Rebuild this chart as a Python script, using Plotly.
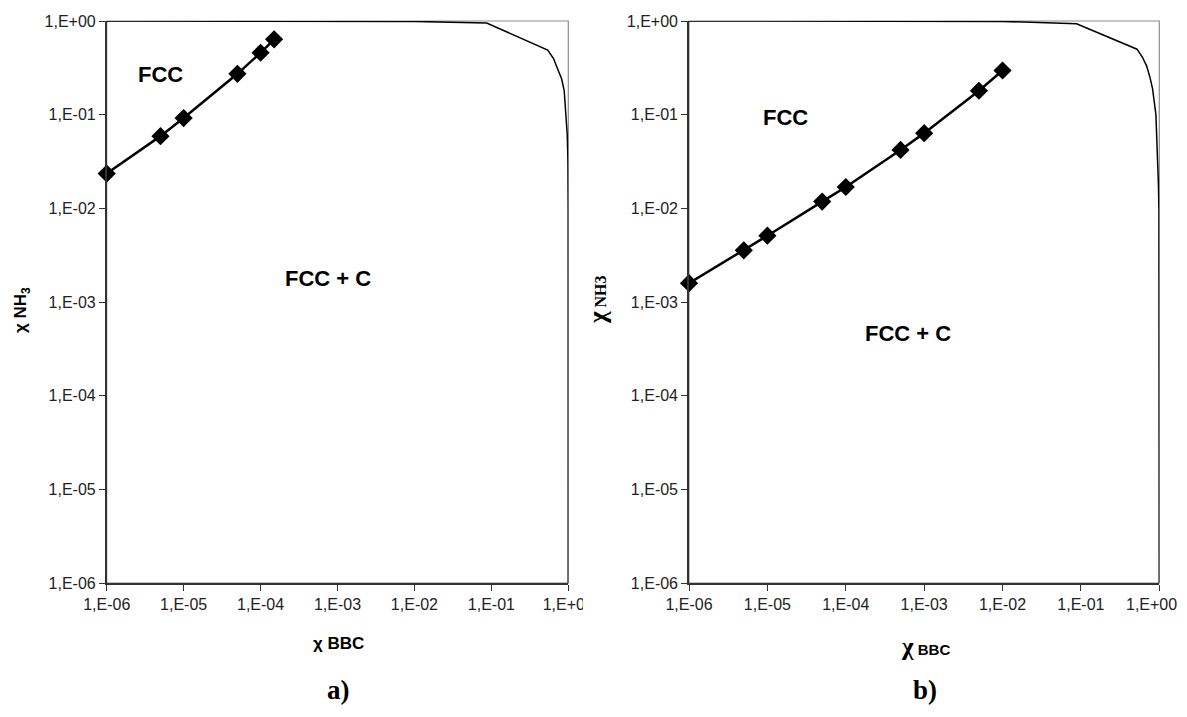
import plotly.graph_objects as go

# tick labels (decades)
TICK_VALS = [1e-6, 1e-5, 1e-4, 1e-3, 1e-2, 1e-1, 1e0]
TICK_TEXT = ['1,E-06', '1,E-05', '1,E-04', '1,E-03', '1,E-02', '1,E-01', '1,E+00']

# panel a) measured points
a_x = [1e-6, 5e-6, 1e-5, 5e-5, 1e-4, 1.5e-4]
a_y = [0.0235, 0.059, 0.092, 0.273, 0.458, 0.637]

# panel b) measured points
b_x = [1e-6, 5e-6, 1e-5, 5e-5, 1e-4, 5e-4, 1e-3, 5e-3, 1e-2]
b_y = [0.00159, 0.00356, 0.0051, 0.0118, 0.0169, 0.042, 0.0635, 0.18, 0.296]

# phase boundary (FCC / FCC + C)
a_bx = [1e-6, 5e-6, 1e-5, 5e-5, 1e-4, 5e-4, 1e-3, 5e-3, 1e-2, 0.087, 0.54, 0.64, 0.71, 0.82, 0.885, 0.94, 0.97, 0.989, 0.998, 1.0]
a_by = [0.999999, 0.999995, 0.99999, 0.99995, 0.9999, 0.9995, 0.999, 0.995, 0.99, 0.95, 0.49, 0.40, 0.32, 0.24, 0.18, 0.10, 0.06, 0.032, 0.01, 1e-6]
b_bx = [1e-6, 5e-6, 1e-5, 5e-5, 1e-4, 5e-4, 1e-3, 5e-3, 1e-2, 0.088, 0.52, 0.61, 0.69, 0.76, 0.82, 0.905, 0.95, 0.975, 0.99, 1.0]
b_by = [0.999999, 0.999995, 0.99999, 0.99995, 0.9999, 0.9995, 0.999, 0.995, 0.99, 0.935, 0.50, 0.41, 0.33, 0.25, 0.19, 0.10, 0.037, 0.018, 0.0093, 1e-6]

# the page body has an 8px margin, so work in screen pixels and shift back
OFF = 8
W, H = 1187 - 2 * OFF, 717 - 2 * OFF
ARIAL = 'Arial, Liberation Sans, sans-serif'
TIMES = 'Times New Roman, Liberation Serif, serif'


def fx(px):
    return (px - OFF) / W


def fy(py):
    return 1 - (py - OFF) / H


fig = go.Figure()

for bx, by, xa, ya in [(a_bx, a_by, 'x', 'y'), (b_bx, b_by, 'x2', 'y2')]:
    fig.add_trace(go.Scatter(x=bx, y=by, xaxis=xa, yaxis=ya, mode='lines',
                             line=dict(color='black', width=1.5),
                             showlegend=False, cliponaxis=False))

for px_, py_, xa, ya in [(a_x, a_y, 'x', 'y'), (b_x, b_y, 'x2', 'y2')]:
    fig.add_trace(go.Scatter(x=px_, y=py_, xaxis=xa, yaxis=ya, mode='lines+markers',
                             line=dict(color='black', width=2.5),
                             marker=dict(symbol='diamond', size=14, color='black'),
                             showlegend=False, cliponaxis=False))


def ax(domain, anchor, ticktext=TICK_TEXT):
    return dict(type='log', range=[-6, 0], domain=domain, anchor=anchor, automargin=False,
                tickvals=TICK_VALS, ticktext=ticktext, ticks='outside', ticklen=6,
                tickcolor='#333', tickwidth=1, showline=True, linecolor='#333', linewidth=1.6,
                showgrid=False, zeroline=False,
                tickfont=dict(family=ARIAL, size=16, color='#222'))


# last label of panel b would fall off the page edge: drawn as an annotation instead
b_ticktext = TICK_TEXT[:-1] + ['']

ydom = [fy(583), fy(21)]
fig.update_layout(
    width=W, height=H, margin=dict(l=0, r=0, t=0, b=0, autoexpand=False),
    paper_bgcolor='white', plot_bgcolor='white',
    xaxis=ax([fx(106.7), fx(568.3)], 'y'),
    yaxis=ax(ydom, 'x'),
    xaxis2=ax([fx(689), fx(1159.3)], 'y2', b_ticktext),
    yaxis2=ax(ydom, 'x2'),
)

# grey frame on top/right
for xr, yr in [('x domain', 'y domain'), ('x2 domain', 'y2 domain')]:
    fig.add_shape(type='rect', xref=xr, yref=yr, x0=0, x1=1, y0=0, y1=1,
                  line=dict(color='#8c8c8c', width=1.2), layer='below')

# clip the last tick label of panel a like the original
fig.add_shape(type='rect', xref='paper', yref='paper', x0=fx(583), x1=fx(620),
              y0=fy(620), y1=fy(592), fillcolor='white', line_width=0, layer='above')

fig.add_annotation(xref='paper', yref='paper', x=fx(1178.5), y=fy(604),
                   xanchor='right', yanchor='middle', showarrow=False,
                   text=TICK_TEXT[-1], font=dict(family=ARIAL, size=16, color='#222'))

notes = [
    dict(x=160.8, y=74, text='<b>FCC</b>', font=dict(family=ARIAL, size=22)),
    dict(x=328, y=278, text='<b>FCC + C</b>', font=dict(family=ARIAL, size=22)),
    dict(x=785, y=117, text='<b>FCC</b>', font=dict(family=ARIAL, size=22)),
    dict(x=908, y=333, text='<b>FCC + C</b>', font=dict(family=ARIAL, size=22)),
    dict(x=338, y=643, text='<b>χ BBC</b>', font=dict(family=ARIAL, size=17)),
    dict(x=925, y=646, text='<b><span style="font-family:' + TIMES + ';font-size:25px">χ</span> BBC</b>',
         font=dict(family=ARIAL, size=15)),
    dict(x=338, y=690, text='<b>a)</b>', font=dict(family=TIMES, size=27)),
    dict(x=925, y=690, text='<b>b)</b>', font=dict(family=TIMES, size=27)),
    dict(x=22, y=310, text='<b>χ NH<sub>3</sub></b>', font=dict(family=ARIAL, size=17), textangle=-90),
    dict(x=598, y=300, text='<b><span style="font-size:25px">χ</span> NH3</b>',
         font=dict(family=TIMES, size=16), textangle=-90),
]
for n in notes:
    fig.add_annotation(xref='paper', yref='paper', x=fx(n['x']), y=fy(n['y']),
                       xanchor='center', yanchor='middle', showarrow=False,
                       text=n['text'], font=dict(color='black', **n['font']),
                       textangle=n.get('textangle', 0))

fig.write_html("out.html")
